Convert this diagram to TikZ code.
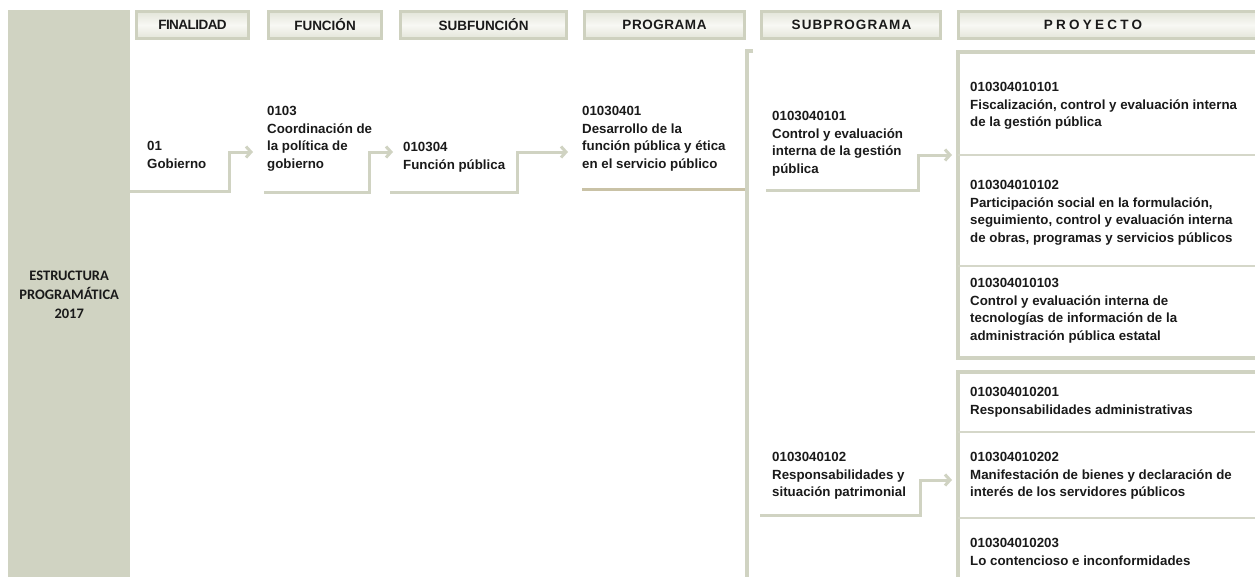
\documentclass[tikz,border=0pt]{standalone}
\usepackage{fontspec}
\setmainfont{Liberation Sans}
\newfontfamily\carlitofont{Carlito}
\usetikzlibrary{arrows.meta}
\definecolor{sage}{HTML}{D0D3C2}
\definecolor{hdedge}{HTML}{CED1BF}
\definecolor{hdlight}{HTML}{F8F8F4}
\definecolor{hdmid}{HTML}{E3E5D9}
\definecolor{tanline}{HTML}{C9C2A6}
\definecolor{sepline}{HTML}{D5D7C9}
\definecolor{ink}{HTML}{1A1A1A}
\tikzset{
  hdr/.style={rectangle, draw=hdedge, line width=3pt, top color=hdmid, bottom color=hdmid, middle color=hdlight,
    minimum height=27pt, inner sep=0pt, text=ink},
  hdfont/.style={font=\bfseries\fontsize{13.5}{15}\selectfont\addfontfeature{LetterSpace=#1}},
  txt/.style={anchor=north west, inner sep=0pt, align=left, text=ink,
    font=\bfseries\fontsize{13.3}{17.7}\selectfont},
  conn/.style={draw=sage, line width=3pt, -{Straight Barb[length=5pt,width=11pt]}},
  uline/.style={draw=sage, line width=3pt},
  bracket/.style={draw=sage, line width=3.5pt},
  sep/.style={draw=sepline, line width=1.2pt}
}
\begin{document}
\begin{tikzpicture}[x=1pt,y=-1pt]
\useasboundingbox (0,0) rectangle (1255,576);

% left column
\node[fill=sage, minimum width=122pt, minimum height=570pt, inner sep=0pt, anchor=north west,
  align=center, text=ink, font=\carlitofont\bfseries\fontsize{14.5}{19}\selectfont]
  (col) at (8,10) {ESTRUCTURA\\PROGRAMÁTICA\\2017};

% headers
\node[hdr, hdfont=-4, minimum width=112pt] (h1) at (192.5,25) {FINALIDAD};
\node[hdr, hdfont=0, minimum width=113pt] (h2) at (325,25) {FUNCIÓN};
\node[hdr, hdfont=0, minimum width=166pt] (h3) at (483.5,25) {SUBFUNCIÓN};
\node[hdr, hdfont=4, minimum width=160pt] (h4) at (664.5,25) {PROGRAMA};
\node[hdr, hdfont=8, minimum width=179pt] (h5) at (851,25) {\hspace*{1pt}SUBPROGRAMA};
\node[hdr, hdfont=24, minimum width=308pt] (h6) at (1112.5,25) {PROYECTO\hspace*{39pt}};

% text blocks
\node[txt] (t1) at (147,141) {01\\Gobierno};
\node[txt] (t2) at (267,106) {0103\\Coordinación de\\la política de\\gobierno};
\node[txt] (t3) at (403,142) {010304\\Función pública};
\node[txt] (t4) at (582,106) {01030401\\Desarrollo de la\\función pública y ética\\en el servicio público};
\node[txt] (t5) at (772,111) {0103040101\\Control y evaluación\\interna de la gestión\\pública};
\node[txt] (t6) at (772,452) {0103040102\\Responsabilidades y\\situación patrimonial};

\node[txt] (p1) at (970,82) {010304010101\\Fiscalización, control y evaluación interna\\de la gestión pública};
\node[txt] (p2) at (970,180) {010304010102\\Participación social en la formulación,\\seguimiento, control y evaluación interna\\de obras, programas y servicios públicos};
\node[txt] (p3) at (970,278) {010304010103\\Control y evaluación interna de\\tecnologías de información de la\\administración pública estatal};
\node[txt] (p4) at (970,387) {010304010201\\Responsabilidades administrativas};
\node[txt] (p5) at (970,452) {010304010202\\Manifestación de bienes y declaración de\\interés de los servidores públicos};
\node[txt] (p6) at (970,538) {010304010203\\Lo contencioso e inconformidades};

% connector coordinates
\coordinate (c1s) at (col.east |- 0,191);
\coordinate (c1k) at (229,191);
\coordinate (c1e) at (253,152);
\coordinate (c2s) at (264,192);
\coordinate (c2k) at (369,192);
\coordinate (c2e) at (393,152);
\coordinate (c3s) at (390,192);
\coordinate (c3k) at (517,192);
\coordinate (c3e) at (568,152);
\coordinate (c4s) at (582,189);
\coordinate (c4e) at (746,189);
\coordinate (c5s) at (766,190);
\coordinate (c5k) at (918,190);
\coordinate (c5e) at (952,155);
\coordinate (c6s) at (760,515);
\coordinate (c6k) at (920,515);
\coordinate (c6e) at (952,480);
\coordinate (b1t) at (753,51);
\coordinate (b1c) at (747,51);
\coordinate (b1b) at (747,590);
\coordinate (g1a) at (1270,52);
\coordinate (g1b) at (958,52);
\coordinate (g1c) at (958,358);
\coordinate (g1d) at (1270,358);
\coordinate (g2a) at (1270,372);
\coordinate (g2b) at (958,372);
\coordinate (g2c) at (958,590);

% connectors
\draw[conn] (c1s) -- (c1k) |- (c1e);
\draw[conn] (c2s) -- (c2k) |- (c2e);
\draw[conn] (c3s) -- (c3k) |- (c3e);
\draw[draw=tanline, line width=3pt] (c4s) -- (c4e);
\draw[bracket] (b1t) -- (b1c) -- (b1b);
\draw[conn] (c5s) -- (c5k) |- (c5e);
\draw[conn] (c6s) -- (c6k) |- (c6e);

% project groups
\draw[bracket] (g1a) -- (g1b) -- (g1c) -- (g1d);
\draw[bracket] (g2a) -- (g2b) -- (g2c);
\draw[sep] (958,155) -- (1270,155);
\draw[sep] (958,266) -- (1270,266);
\draw[sep] (958,432) -- (1270,432);
\draw[sep] (958,518) -- (1270,518);
\end{tikzpicture}
\end{document}
